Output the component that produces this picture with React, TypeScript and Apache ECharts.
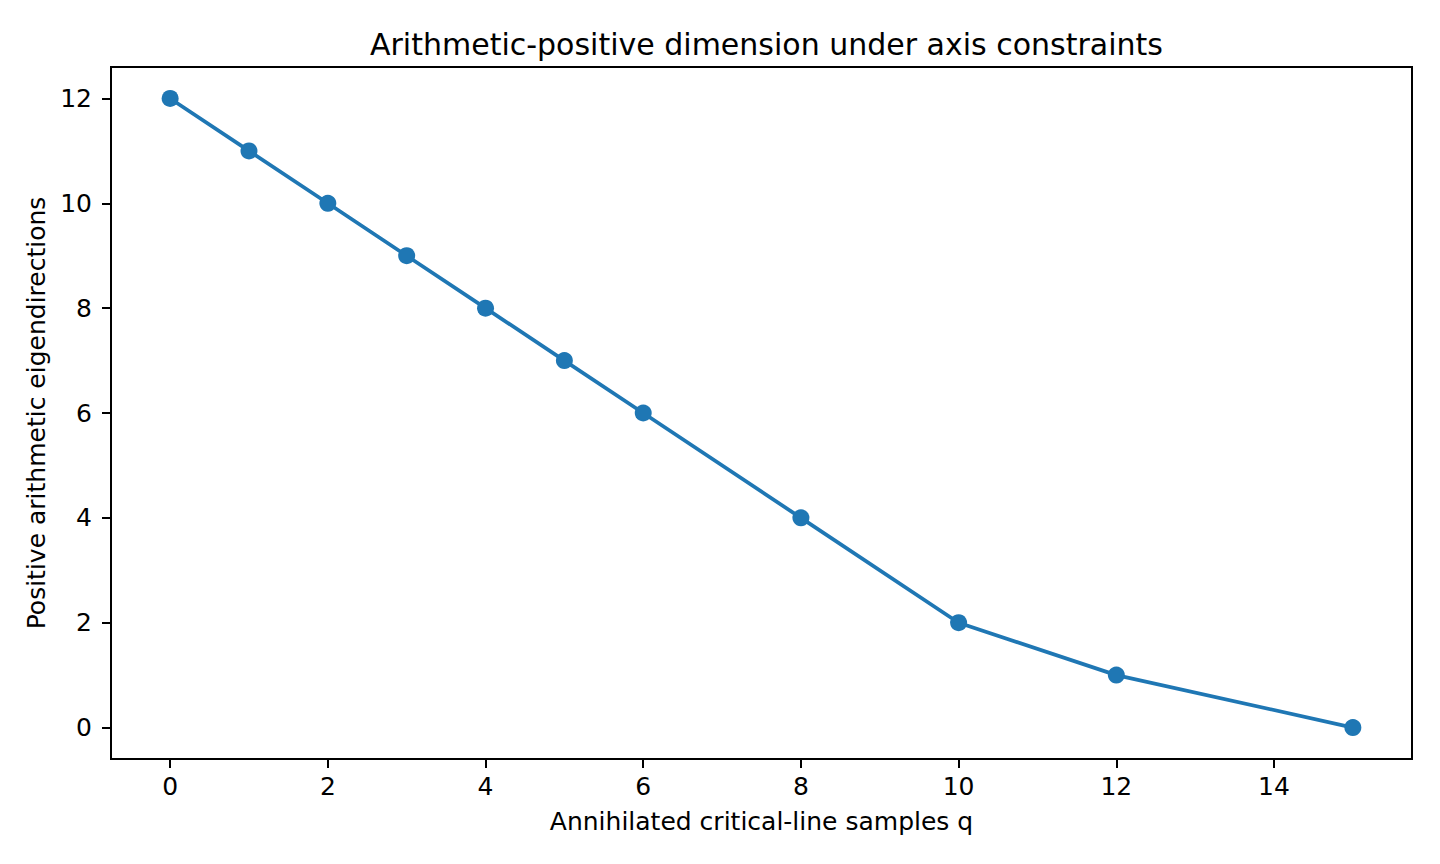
import * as echarts from 'echarts';
import { useEffect, useRef } from 'react';

// samples annihilated on the critical line vs. remaining positive directions
const qValues = [0, 1, 2, 3, 4, 5, 6, 8, 10, 12, 15];
const dimValues = [12, 11, 10, 9, 8, 7, 6, 4, 2, 1, 0];
const xTicks = [0, 2, 4, 6, 8, 10, 12, 14];
const yTicks = [0, 2, 4, 6, 8, 10, 12];

const FONT = 'DejaVu Sans';

export default function App() {
  const ref = useRef<HTMLDivElement>(null);

  useEffect(() => {
    if (!ref.current) return;
    const chart = echarts.init(ref.current, null, { renderer: 'svg' });
    chart.setOption({
      animation: false,
      backgroundColor: '#fff',
      textStyle: { fontFamily: FONT },
      title: {
        text: 'Arithmetic-positive dimension under axis constraints',
        left: 365,
        top: 24,
        textStyle: { fontFamily: FONT, fontSize: 30, fontWeight: 'normal', color: '#000' },
      },
      grid: {
        left: 111,
        top: 67,
        width: 1301,
        height: 692,
        show: true,
        borderColor: '#000',
        borderWidth: 2,
        backgroundColor: 'transparent',
      },
      xAxis: {
        type: 'value',
        min: -0.75,
        max: 15.75,
        name: 'Annihilated critical-line samples q',
        nameLocation: 'middle',
        nameGap: 50,
        nameTextStyle: { fontFamily: FONT, fontSize: 25, color: '#000' },
        axisLine: { show: true, onZero: false, lineStyle: { color: '#000', width: 2 } },
        axisTick: { show: true, length: 9, customValues: xTicks, lineStyle: { color: '#000', width: 2 } },
        axisLabel: {
          customValues: xTicks,
          margin: 15,
          fontFamily: FONT,
          fontSize: 25,
          color: '#000',
        },
        splitLine: { show: false },
      },
      yAxis: {
        type: 'value',
        min: -0.6,
        max: 12.6,
        name: 'Positive arithmetic eigendirections',
        nameLocation: 'middle',
        nameGap: 60,
        nameTextStyle: { fontFamily: FONT, fontSize: 25, color: '#000' },
        axisLine: { show: true, onZero: false, lineStyle: { color: '#000', width: 2 } },
        axisTick: { show: true, length: 9, customValues: yTicks, lineStyle: { color: '#000', width: 2 } },
        axisLabel: {
          customValues: yTicks,
          margin: 19,
          fontFamily: FONT,
          fontSize: 25,
          color: '#000',
        },
        splitLine: { show: false },
      },
      series: [
        {
          type: 'line',
          data: qValues.map((q, i) => [q, dimValues[i]]),
          symbol: 'circle',
          symbolSize: 17,
          itemStyle: { color: '#1f77b4' },
          lineStyle: { color: '#1f77b4', width: 3.75 },
        },
      ],
    });
    return () => chart.dispose();
  }, []);

  return (
    <div
      ref={ref}
      style={{ position: 'fixed', left: 0, top: 0, width: 1440, height: 864, background: '#fff' }}
    />
  );
}
